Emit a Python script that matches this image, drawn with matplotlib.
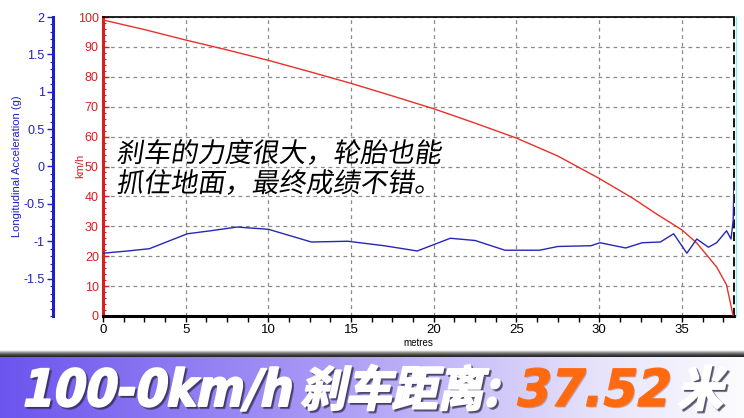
import numpy as np
import matplotlib
matplotlib.use("Agg")
import matplotlib.pyplot as plt
import matplotlib.patheffects as pe
import matplotlib.colors as mcolors
from matplotlib.transforms import Affine2D
from matplotlib.ticker import MultipleLocator, FixedLocator

# speed trace (km/h) against distance (m)
dist_speed = [0, 2.5, 5, 7.5, 10, 12.5, 15, 17.5, 20, 22.5, 25, 27.5, 30, 32,
              33.5, 35, 35.9, 37.1, 37.7, 38.1]
speed = [99, 95.8, 92.3, 89, 85.5, 81.7, 77.8, 73.6, 69.3, 64.5, 59.5, 53.5,
         46, 39.5, 34, 28.8, 24.4, 16.4, 10.4, 0]

# longitudinal acceleration (g)
dist_acc = [0, 1.5, 2.8, 5.1, 6.5, 8.1, 10.0, 12.6, 14.8, 17, 19.0, 21.0, 22.5,
            24.3, 26.4, 27.5, 29.5, 30.05, 31.6, 32.6, 33.7, 34.5, 35.3, 35.9,
            36.6, 37.1, 37.7, 37.97, 38.1, 38.15]
accel = [-1.16, -1.13, -1.10, -0.90, -0.86, -0.81, -0.84, -1.01, -1.00, -1.06,
         -1.13, -0.96, -0.99, -1.12, -1.12, -1.07, -1.06, -1.02, -1.09, -1.02,
         -1.01, -0.90, -1.16, -0.97, -1.08, -1.02, -0.86, -0.97, -0.72, -0.22]

acc_ticks = [-1.5, -1, -0.5, 0, 0.5, 1, 1.5, 2]
acc_labels = ["-1.5", "-1", "-0.5", "0", "0.5", "1", "1.5", "2"]

note_lines = ["刹车的力度很大，轮胎也能", "抓住地面，最终成绩不错。"]
banner_parts = ["100-0km/h", "刹车距离:", "37.52", "米"]

plt.rcParams['font.family'] = ['Liberation Sans', 'Noto Sans CJK SC']

W, H = 744, 418


class Slant(pe.AbstractPathEffect):
    # squeeze / slant the glyph outlines, optional shift, colour and edge
    def __init__(self, sx=1.0, sy=1.0, shear=0.0, dx=0, dy=0, face=None,
                 edge=None, lw=0):
        super().__init__()
        self.sx, self.sy, self.shear = sx, sy, shear
        self.dx, self.dy = dx, dy
        self.face, self.edge, self.lw = face, edge, lw

    def draw_path(self, renderer, gc, tpath, affine, rgbFace=None):
        aff = (Affine2D().scale(self.sx, self.sy).skew_deg(self.shear, 0)
               + affine + Affine2D().translate(self.dx, self.dy))
        gc0 = renderer.new_gc()
        gc0.copy_properties(gc)
        face = rgbFace if self.face is None else mcolors.to_rgba(self.face)
        if self.lw:
            gc0.set_linewidth(self.lw)
            gc0.set_foreground(self.edge)
        renderer.draw_path(gc0, tpath, aff, face)
        gc0.restore()


def banner_fx(sx, face, shadow=True):
    fx = []
    if shadow:
        dark = (0.18, 0.16, 0.28, 0.6)
        fx.append(Slant(sx=sx, sy=1.05, shear=12, dx=2, dy=-2, face=dark,
                        edge=dark, lw=1.6))
    fx.append(Slant(sx=sx, sy=1.05, shear=12, face=face, edge=face, lw=1.4))
    return fx


fig = plt.figure(figsize=(W / 100, H / 100), dpi=100)
fig.patch.set_facecolor("white")

ax = fig.add_axes([103 / W, 1 - 316 / H, 631 / W, 299 / H])
ax.set_xlim(0, 38.15)
ax.set_ylim(0, 100)

ax.plot(dist_speed, speed, color="#e8302a", lw=1.0, zorder=3)

ax.xaxis.set_major_locator(MultipleLocator(5))
ax.xaxis.set_minor_locator(MultipleLocator(1.25))
ax.yaxis.set_major_locator(MultipleLocator(10))
ax.yaxis.set_minor_locator(MultipleLocator(2))
ax.grid(True, which="major", color="#8a8a8a", linestyle=(0, (3, 3)), lw=0.9)

ax.tick_params(axis="x", which="both", direction="out", length=4, width=1,
               colors="black", labelsize=9.5, pad=2)
ax.tick_params(axis="y", which="major", direction="in", length=4, width=1,
               colors="#d42020", labelsize=9, pad=3)
ax.tick_params(axis="y", which="minor", direction="in", length=2, width=0.8,
               colors="#d42020")

ax.spines["left"].set_color("#d42020")
ax.spines["left"].set_linewidth(2.2)
ax.spines["bottom"].set_color("black")
ax.spines["bottom"].set_linewidth(2.2)
ax.spines["top"].set_color("black")
ax.spines["top"].set_linewidth(1.2)
ax.spines["right"].set_color("black")
ax.spines["right"].set_linestyle((0, (4, 3)))
ax.spines["right"].set_linewidth(1.3)

# acceleration axis, parked to the left of the speed axis
ax2 = ax.twinx()
ax2.set_ylim(-2, 2)
ax2.plot(dist_acc, accel, color="#2626b8", lw=1.0, zorder=4)
ax2.yaxis.set_ticks_position("left")
ax2.spines["left"].set_position(("axes", -50 / 631))
ax2.spines["left"].set_visible(True)
ax2.spines["left"].set_color("#1f1fc8")
ax2.spines["left"].set_linewidth(2.2)
ax2.spines["right"].set_color("#8fe8f0")
ax2.spines["right"].set_position(("outward", 1.5))
ax2.spines["right"].set_linewidth(1.0)
for s in ["top", "bottom"]:
    ax2.spines[s].set_visible(False)
ax2.yaxis.set_major_locator(FixedLocator(acc_ticks))
ax2.set_yticklabels(acc_labels)
ax2.yaxis.set_minor_locator(MultipleLocator(0.1))
ax2.tick_params(axis="y", which="major", direction="out", length=4, width=1,
                colors="#1f1fc8", labelsize=9, pad=2)
ax2.tick_params(axis="y", which="minor", direction="out", length=2, width=0.8,
                colors="#1f1fc8")

fig.text(17 / W, 1 - 166 / H, "Longitudinal Acceleration (g)", color="#1f1fc8",
         rotation=90, ha="center", va="center", fontsize=8)
fig.text(80 / W, 1 - 166 / H, "km/h", color="#d42020", rotation=90,
         ha="center", va="center", fontsize=8)
fig.text(418 / W, 1 - 343 / H, "metres", color="black", ha="center",
         va="center", fontsize=7)

# comment inside the plot
for i, line in enumerate(note_lines):
    fig.text(116 / W, 1 - (162 + 30 * i) / H, line, family="Noto Sans CJK SC",
             fontsize=19.5, color="black", ha="left", va="baseline",
             path_effects=[Slant(sx=1.0, shear=9)])

# bottom banner with purple -> white gradient
top_px = 357
bax = fig.add_axes([0, 0, 1, (H - top_px) / H])
stops = np.array([[0.0, 108, 84, 238], [0.45, 172, 156, 246],
                  [0.8, 230, 226, 250], [1.0, 252, 252, 254]])
xs = np.linspace(0, 1, 400)
grad = np.stack([np.interp(xs, stops[:, 0], stops[:, k]) for k in (1, 2, 3)],
                axis=-1)[None, :, :] / 255
bax.imshow(grad, aspect="auto", extent=[0, 1, 0, 1])
bax.set_axis_off()

lax = fig.add_axes([0, (H - top_px) / H, 1, 7 / H])
shade = np.linspace(0, 1, 20) ** 1.6
shade_img = np.repeat((0.15 + 0.85 * shade)[:, None], 2, axis=1)
lax.imshow(shade_img, aspect="auto", cmap="gray", vmin=0, vmax=1,
           origin="lower", extent=[0, 1, 0, 1])
lax.set_axis_off()

base_y = 1 - 406 / H
fig.text(20 / W, base_y, banner_parts[0], family=["DejaVu Sans"],
         weight="bold", fontsize=35, color="white", va="baseline",
         path_effects=banner_fx(0.93, "white"))
fig.text(300 / W, base_y, banner_parts[1], family=["Noto Sans CJK SC"],
         weight="black", fontsize=33, color="white", va="baseline",
         path_effects=banner_fx(1.0, "white"))
fig.text(514 / W, base_y, banner_parts[2], family=["DejaVu Sans"],
         weight="bold", fontsize=35, color="#ff6a10", va="baseline",
         path_effects=[Slant(sx=1.0, sy=1.05, shear=12, dx=1.5, dy=-1.5,
                             face=(0.3, 0.2, 0.2, 0.3)),
                       Slant(sx=1.0, sy=1.05, shear=12, face="#ff6a10",
                             edge="#ff6a10", lw=1.0)])
fig.text(677 / W, base_y, banner_parts[3], family=["Noto Sans CJK SC"],
         weight="black", fontsize=33, color="white", va="baseline",
         path_effects=banner_fx(1.0, "white"))

fig.savefig("out.png", dpi=100)
